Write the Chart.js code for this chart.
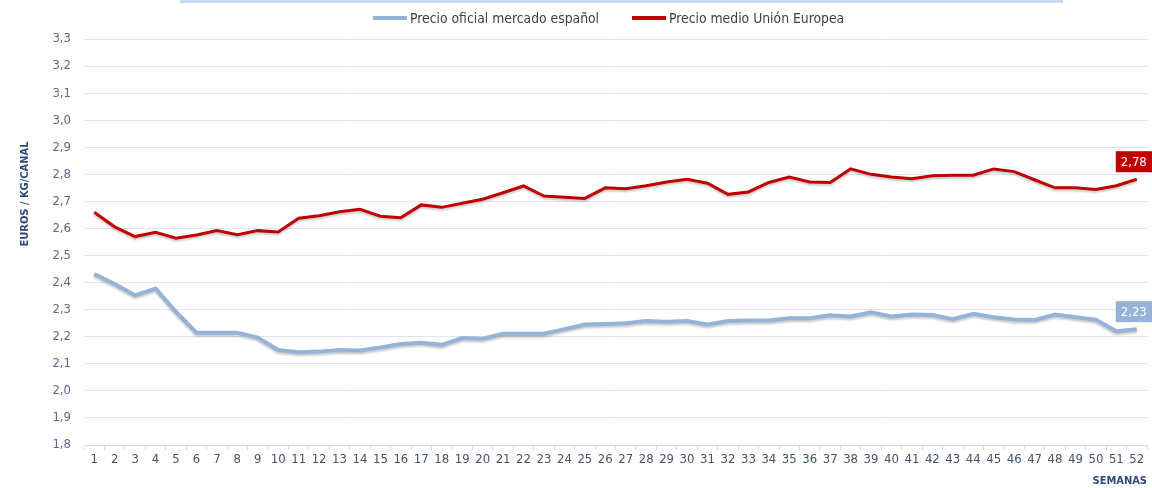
<!DOCTYPE html>
<html>
<head>
<meta charset="utf-8">
<script src="https://cdn.jsdelivr.net/npm/chart.js@4.4.1/dist/chart.umd.min.js"></script>
<style>
  body { margin: 0; background: #fff; }
  #wrap { position: relative; width: 1152px; height: 488px; }
  #topBar { position: absolute; left: 180px; top: 0; width: 883px; height: 3px; background: #c6d9f0; }
  #legend { position: absolute; left: 373px; top: 10px; display: flex; align-items: center;
            font: 13.8px "DejaVu Sans Condensed", sans-serif; color: #404040; }
  #legend .item { display: flex; align-items: center; margin-right: 33px; }
  #legend .swatch { width: 34px; height: 4px; margin-right: 3px; }
</style>
</head>
<body>
<div id="wrap">
  <div id="topBar"></div>
  <canvas id="myChart" width="1152" height="488"></canvas>
  <div id="legend"></div>
</div>
<script>
// semanas del año
const semanas = ['1','2','3','4','5','6','7','8','9','10','11','12','13','14','15','16','17','18','19','20',
  '21','22','23','24','25','26','27','28','29','30','31','32','33','34','35','36','37','38','39','40',
  '41','42','43','44','45','46','47','48','49','50','51','52'];

// precio oficial mercado español (euros/kg canal)
const precioEspana = [2.432, 2.395, 2.353, 2.378, 2.292, 2.215, 2.215, 2.215, 2.197, 2.151,
  2.143, 2.145, 2.151, 2.149, 2.16, 2.173, 2.178, 2.17, 2.195, 2.193,
  2.211, 2.211, 2.211, 2.228, 2.245, 2.247, 2.25, 2.258, 2.255, 2.258,
  2.245, 2.258, 2.26, 2.26, 2.268, 2.268, 2.279, 2.275, 2.29, 2.275,
  2.282, 2.28, 2.265, 2.285, 2.272, 2.264, 2.262, 2.282, 2.272, 2.263,
  2.22, 2.228];

// precio medio Unión Europea
const precioUE = [2.66, 2.606, 2.57, 2.586, 2.564, 2.576, 2.592, 2.577, 2.592, 2.587,
  2.638, 2.647, 2.662, 2.671, 2.645, 2.64, 2.687, 2.678, 2.693, 2.708,
  2.732, 2.757, 2.72, 2.715, 2.711, 2.75, 2.747, 2.758, 2.772, 2.782,
  2.767, 2.726, 2.735, 2.77, 2.79, 2.772, 2.77, 2.82, 2.8, 2.79,
  2.784, 2.795, 2.797, 2.797, 2.82, 2.81, 2.78, 2.75, 2.75, 2.744,
  2.758, 2.782];

const seriesNames = ['Precio oficial mercado español', 'Precio medio Unión Europea'];
const tituloY = 'EUROS / KG/CANAL';
const tituloX = 'SEMANAS';

const azul = '#95b3d7';
const rojo = '#c00000';
const fuente = '"DejaVu Sans Condensed", sans-serif';

// sombra suave debajo de las lineas
const shadowPlugin = {
  id: 'shadow',
  beforeDatasetDraw(chart) {
    const ctx = chart.ctx;
    ctx.save();
    ctx.shadowColor = 'rgba(0,0,0,0.2)';
    ctx.shadowBlur = 2;
    ctx.shadowOffsetY = 2;
  },
  afterDatasetDraw(chart) {
    chart.ctx.restore();
  }
};

// etiqueta con el ultimo valor + titulo del eje Y
const extrasPlugin = {
  id: 'extras',
  afterDatasetsDraw(chart) {
    const ctx = chart.ctx;
    chart.data.datasets.forEach((ds, i) => {
      const meta = chart.getDatasetMeta(i);
      const last = meta.data[meta.data.length - 1];
      const val = ds.data[ds.data.length - 1];
      ctx.save();
      ctx.fillStyle = ds.borderColor;
      ctx.fillRect(last.x - 21, last.y - 28, 37, 21);
      ctx.fillStyle = '#fff';
      ctx.font = '13px ' + fuente;
      ctx.textAlign = 'left';
      ctx.textBaseline = 'middle';
      ctx.fillText(val.toFixed(2).replace('.', ','), last.x - 16, last.y - 17);
      ctx.restore();
    });
    ctx.save();
    ctx.translate(25, 194);
    ctx.rotate(-Math.PI / 2);
    ctx.font = 'bold 11px ' + fuente;
    ctx.fillStyle = '#2e4a7a';
    ctx.textAlign = 'center';
    ctx.textBaseline = 'middle';
    ctx.fillText(tituloY, 0, 0);
    ctx.restore();
  }
};

const mychart = document.getElementById('myChart').getContext('2d');
const chart = new Chart(mychart, {
  type: 'line',
  data: {
    labels: semanas,
    datasets: [
      {
        label: seriesNames[0],
        data: precioEspana,
        borderColor: azul,
        backgroundColor: azul,
        borderWidth: 4,
        pointRadius: 0,
        tension: 0
      },
      {
        label: seriesNames[1],
        data: precioUE,
        borderColor: rojo,
        backgroundColor: rojo,
        borderWidth: 3,
        pointRadius: 0,
        tension: 0
      }
    ]
  },
  options: {
    responsive: false,
    animation: false,
    layout: { padding: { top: 39, left: 0, right: 5, bottom: 0 } },
    plugins: {
      legend: { display: false },
      tooltip: { enabled: false }
    },
    scales: {
      x: {
        offset: true,
        grid: {
          offset: true,
          drawOnChartArea: false,
          drawTicks: true,
          tickLength: 5,
          color: '#d0dcec'
        },
        border: { color: '#d0dcec' },
        ticks: {
          autoSkip: false,
          maxRotation: 0,
          padding: 2,
          color: '#44546a',
          font: { family: fuente, size: 13 }
        },
        title: {
          display: true,
          text: tituloX,
          align: 'end',
          color: '#2e4a7a',
          font: { family: fuente, size: 11, weight: 'bold' },
          padding: { top: 7, bottom: 0 }
        },
        afterFit(scale) { scale.height = 43; }
      },
      y: {
        min: 1.8,
        max: 3.3,
        grid: { color: '#dce6f2', drawTicks: false },
        border: { display: false },
        ticks: {
          stepSize: 0.1,
          padding: 13,
          color: '#596a8a',
          font: { family: fuente, size: 13 },
          callback: v => v.toFixed(1).replace('.', ',')
        },
        afterFit(scale) { scale.width = 84; }
      }
    }
  },
  plugins: [shadowPlugin, extrasPlugin]
});

// leyenda en html
const legendDiv = document.getElementById('legend');
chart.data.datasets.forEach(ds => {
  legendDiv.insertAdjacentHTML('beforeend',
    `<div class="item"><span class="swatch" style="background:${ds.borderColor}"></span>${ds.label}</div>`);
});
</script>
</body>
</html>
